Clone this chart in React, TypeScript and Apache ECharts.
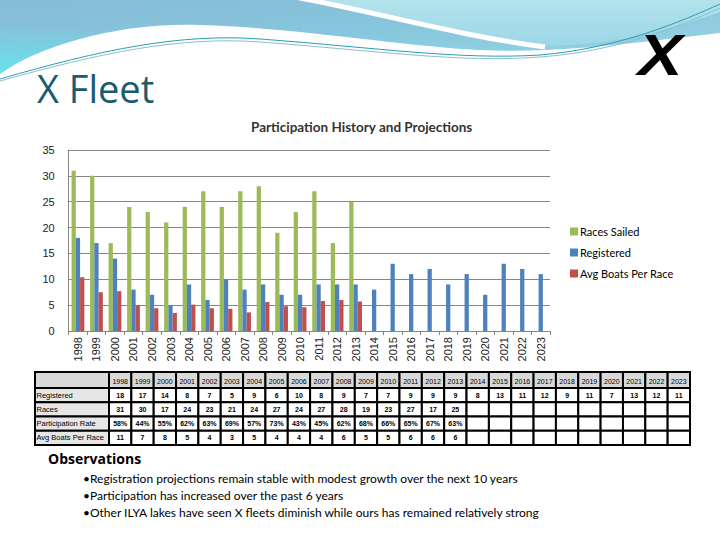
import React, { useEffect, useRef } from "react";
import * as echarts from "echarts";

const years = [
  "1998", "1999", "2000", "2001", "2002", "2003", "2004", "2005", "2006",
  "2007", "2008", "2009", "2010", "2011", "2012", "2013", "2014", "2015",
  "2016", "2017", "2018", "2019", "2020", "2021", "2022", "2023",
];
const registered = [18, 17, 14, 8, 7, 5, 9, 6, 10, 8, 9, 7, 7, 9, 9, 9, 8, 13, 11, 12, 9, 11, 7, 13, 12, 11];
const racesSailed = [31, 30, 17, 24, 23, 21, 24, 27, 24, 27, 28, 19, 23, 27, 17, 25];
const avgBoatsChart = [10.4, 7.5, 7.7, 5.0, 4.4, 3.5, 5.1, 4.4, 4.3, 3.6, 5.6, 4.8, 4.6, 5.8, 6.0, 5.7];
const participationRate = ["58%", "44%", "55%", "62%", "63%", "69%", "57%", "73%", "43%", "45%", "62%", "68%", "66%", "65%", "67%", "63%"];
const avgBoatsTable = [11, 7, 8, 5, 4, 3, 5, 4, 4, 4, 6, 5, 5, 6, 6, 6];
const rowLabels = ["Registered", "Races", "Participation Rate", "Avg Boats Per Race"];
const seriesNames = ["Races Sailed", "Registered", "Avg Boats Per Race"];
const seriesColors = ["#9bbb59", "#4f81bd", "#c0504d"];
const chartTitle = "Participation History and Projections";
const slideTitle = "X Fleet";
const observationsTitle = "Observations";
const observations = [
  "•Registration projections remain stable with modest growth over the next 10 years",
  "•Participation has increased over the past 6 years",
  "•Other ILYA lakes have seen X fleets diminish while ours has remained relatively strong",
];

const pad = (arr: any[]) => years.map((_, i) => (i < arr.length ? arr[i] : null));

let registered_ = false;
function registerShapes() {
  if (registered_) return;
  registered_ = true;
  echarts.graphic.registerShape(
    "swooshBlue",
    echarts.graphic.extendPath(
      "M0,0 L720,0 L720,33 C640,42 560,54 480,50 C400,46 300,28 200,25 C120,22 40,45 0,74 Z",
      {}
    )
  );
  echarts.graphic.registerShape(
    "swooshLight",
    echarts.graphic.extendPath(
      "M300,0 C390,16 460,38 540,46 C620,46 680,26 720,12 L720,0 Z",
      {}
    )
  );
  echarts.graphic.registerShape(
    "stripeWhite",
    echarts.graphic.extendPath("M295,-3 C380,13 460,36 545,47", {})
  );
  echarts.graphic.registerShape(
    "lineA",
    echarts.graphic.extendPath(
      "M0,79 C100,50 180,33 260,39 C380,48 460,60 540,55 C620,48 680,22 720,4",
      {}
    )
  );
  echarts.graphic.registerShape(
    "lineB",
    echarts.graphic.extendPath(
      "M0,81 C100,53 180,36 260,42 C380,51 460,63 540,57 C620,51 680,26 720,8",
      {}
    )
  );
}

export default function App() {
  const ref = useRef<HTMLDivElement>(null);

  useEffect(() => {
    document.body.style.margin = "0";
    registerShapes();
    const chart = echarts.init(ref.current!, undefined, { renderer: "svg" });

    const graphics: any[] = [];
    graphics.push({
      type: "swooshBlue",
      x: 0,
      y: 0,
      z: -10,
      style: {
        fill: new echarts.graphic.LinearGradient(0, 0, 1, 1, [
          { offset: 0, color: "#86bcd6" },
          { offset: 0.45, color: "#86c6dc" },
          { offset: 1, color: "#9fd8e6" },
        ]),
      },
    });
    graphics.push({
      type: "swooshBlue",
      x: 0,
      y: 0,
      z: -9,
      style: {
        fill: new echarts.graphic.LinearGradient(0, 1, 0.35, 0, [
          { offset: 0, color: "rgba(100,228,238,0.9)" },
          { offset: 0.6, color: "rgba(100,228,238,0)" },
        ]),
      },
    });
    graphics.push({
      type: "swooshLight",
      x: 0,
      y: 0,
      z: -8,
      style: {
        fill: new echarts.graphic.LinearGradient(0, 0, 0, 1, [
          { offset: 0, color: "#b2e3ec" },
          { offset: 1, color: "#9dd6e8" },
        ]),
      },
    });
    graphics.push({
      type: "stripeWhite",
      x: 0,
      y: 0,
      z: -7,
      style: { fill: "none", stroke: "#ffffff", lineWidth: 5 },
    });
    graphics.push({
      type: "lineA",
      x: 0,
      y: 0,
      z: -6,
      style: { fill: "none", stroke: "#2b9fae", lineWidth: 1 },
    });
    graphics.push({
      type: "lineB",
      x: 0,
      y: 0,
      z: -6,
      style: { fill: "none", stroke: "#8cbfcc", lineWidth: 1 },
    });

    graphics.push({
      type: "text",
      x: 37,
      y: 87.5,
      style: {
        text: slideTitle,
        fontFamily: "Open Sans",
        fontSize: 38,
        fill: "#1b5b6f",
        verticalAlign: "middle",
      },
    });
    graphics.push({
      type: "text",
      x: 638,
      y: 55,
      scaleX: 1.15,
      style: {
        text: "X",
        fontFamily: "Liberation Sans",
        fontSize: 58,
        fontWeight: "bold",
        fontStyle: "italic",
        fill: "#000000",
        verticalAlign: "middle",
      },
    });

    // table
    const tLeft = 35;
    const labelRight = 109;
    const colW = (690 - labelRight) / years.length;
    const rowY = [372, 388, 402.3, 416.5, 430.8, 445];
    const rowsData: (string | number | null)[][] = [
      registered,
      racesSailed,
      participationRate,
      avgBoatsTable,
    ];
    graphics.push({
      type: "rect",
      shape: { x: tLeft, y: rowY[0], width: labelRight - tLeft, height: rowY[1] - rowY[0] },
      style: { fill: "#d9d9d9", stroke: "#000", lineWidth: 2 },
    });
    years.forEach((yr, i) => {
      const x = labelRight + i * colW;
      graphics.push({
        type: "rect",
        shape: { x, y: rowY[0], width: colW, height: rowY[1] - rowY[0] },
        style: { fill: "#d9d9d9", stroke: "#000", lineWidth: 2 },
      });
      graphics.push({
        type: "text",
        x: x + colW / 2,
        y: (rowY[0] + rowY[1]) / 2 + 1,
        style: {
          text: yr,
          fontFamily: "Liberation Sans",
          fontSize: 7,
          fill: "#000",
          align: "center",
          verticalAlign: "middle",
        },
      });
    });
    rowLabels.forEach((lab, r) => {
      const y0 = rowY[r + 1];
      const y1 = rowY[r + 2];
      graphics.push({
        type: "rect",
        shape: { x: tLeft, y: y0, width: labelRight - tLeft, height: y1 - y0 },
        style: { fill: "#e6e6e6", stroke: "#000", lineWidth: 2 },
      });
      graphics.push({
        type: "text",
        x: tLeft + 1.5,
        y: (y0 + y1) / 2,
        z: 2,
        style: {
          text: lab,
          fontFamily: "Liberation Sans",
          fontSize: 7.5,
          fill: "#000",
          align: "left",
          verticalAlign: "middle",
        },
      });
      years.forEach((_, i) => {
        const x = labelRight + i * colW;
        graphics.push({
          type: "rect",
          shape: { x, y: y0, width: colW, height: y1 - y0 },
          style: { fill: "#ffffff", stroke: "#000", lineWidth: 2 },
        });
        const v = rowsData[r][i];
        if (v !== undefined && v !== null) {
          graphics.push({
            type: "text",
            x: x + colW / 2,
            y: (y0 + y1) / 2,
            style: {
              text: String(v),
              fontFamily: "Liberation Sans",
              fontSize: 7,
              fontWeight: "bold",
              fill: "#000",
              align: "center",
              verticalAlign: "middle",
            },
          });
        }
      });
    });

    graphics.push({
      type: "text",
      x: 48,
      y: 458.5,
      style: {
        text: observationsTitle,
        fontFamily: "Open Sans",
        fontSize: 14,
        fontWeight: "bold",
        fill: "#000",
        verticalAlign: "middle",
      },
    });
    observations.forEach((t, i) => {
      graphics.push({
        type: "text",
        x: 83,
        y: 478 + i * 17,
        style: {
          text: t,
          fontFamily: "Lato",
          fontSize: 12,
          fill: "#000",
          verticalAlign: "middle",
        },
      });
    });

    const option: any = {
      animation: false,
      backgroundColor: "#ffffff",
      title: {
        text: chartTitle,
        left: 251,
        top: 119.5,
        padding: 0,
        textStyle: {
          fontFamily: "Lato",
          fontSize: 13.5,
          fontWeight: "bold",
          color: "#333333",
        },
      },
      legend: {
        orient: "vertical",
        left: 570,
        top: 226,
        padding: 0,
        itemWidth: 8,
        itemHeight: 8,
        itemGap: 10,
        icon: "rect",
        data: seriesNames,
        textStyle: {
          fontFamily: "Lato",
          fontSize: 11,
          color: "#000",
          padding: [0, 0, 0, -3],
        },
      },
      grid: { left: 68.7, right: 170, top: 150, bottom: 209, containLabel: false },
      xAxis: {
        type: "category",
        data: years,
        axisLine: { lineStyle: { color: "#868686" } },
        axisTick: { show: true, alignWithLabel: false, length: 4, lineStyle: { color: "#868686" } },
        axisLabel: {
          rotate: 90,
          interval: 0,
          margin: 6,
          fontFamily: "Liberation Sans",
          fontSize: 11,
          color: "#222",
        },
      },
      yAxis: {
        type: "value",
        min: 0,
        max: 35,
        interval: 5,
        axisLine: { show: true, lineStyle: { color: "#868686" } },
        axisTick: { show: false },
        splitLine: { lineStyle: { color: "#868686", width: 1 } },
        axisLabel: {
          margin: 14,
          fontFamily: "Liberation Sans",
          fontSize: 11,
          color: "#222",
        },
      },
      series: [
        {
          name: seriesNames[0],
          type: "bar",
          data: pad(racesSailed),
          itemStyle: { color: seriesColors[0] },
          barGap: "0%",
          barCategoryGap: "31%",
        },
        {
          name: seriesNames[1],
          type: "bar",
          data: registered,
          itemStyle: { color: seriesColors[1] },
          barGap: "0%",
          barCategoryGap: "31%",
        },
        {
          name: seriesNames[2],
          type: "bar",
          data: pad(avgBoatsChart),
          itemStyle: { color: seriesColors[2] },
          barGap: "0%",
          barCategoryGap: "31%",
        },
      ],
      graphic: graphics,
    };

    chart.setOption(option);
    return () => chart.dispose();
  }, []);

  return <div ref={ref} style={{ width: 720, height: 540 }} />;
}
